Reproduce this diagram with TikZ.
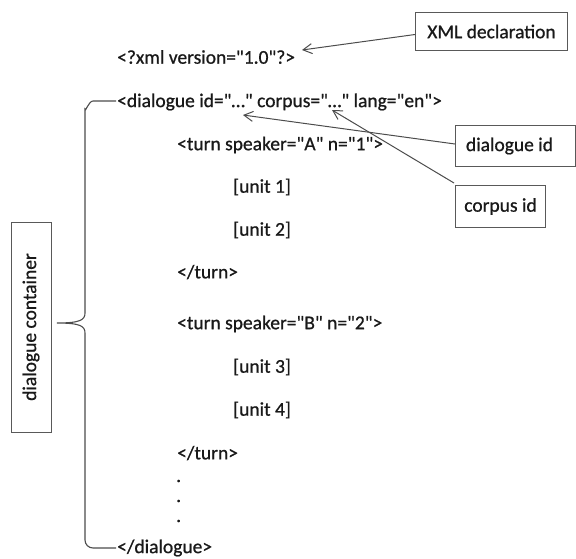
\documentclass[tikz,border=0pt]{standalone}
\usepackage{fontspec}
\setmainfont{Carlito}[Ligatures=TeXOff,FakeBold=0.8]
\usetikzlibrary{arrows.meta}
\begin{document}
\begin{tikzpicture}[x=1pt,y=-1pt,
  code/.style={anchor=west,inner sep=0pt,font=\fontsize{19.5}{22}\selectfont,text=black!90},
  label/.style={draw=black!65,line width=1pt,font=\fontsize{19.5}{22}\selectfont,text=black!90,inner sep=0pt},
  pointer/.style={draw=black!70,line width=1pt,-{Straight Barb[length=9pt,width=10pt,line width=1pt]}},
  brace/.style={draw=black!70,line width=1.1pt}]
\useasboundingbox (0,0) rectangle (576,558);

% XML listing
\node[code] (decl) at (117,57) {<?xml version="1.0"?>};
\node[code] (dlg) at (117,102) {<dialogue id="…" corpus="…" lang="en">};
\node[code] (turnA) at (177,145) {<turn speaker="A" n="1">};
\node[code] (u1) at (233,187) {[unit 1]};
\node[code] (u2) at (233,230) {[unit 2]};
\node[code] (endA) at (177,272) {</turn>};
\node[code] (turnB) at (177,324) {<turn speaker="B" n="2">};
\node[code] (u3) at (233,367) {[unit 3]};
\node[code] (u4) at (233,410) {[unit 4]};
\node[code] (endB) at (177,453) {</turn>};
\foreach \y/\n in {481/d1,501/d2,521/d3}
  \node[code] (\n) at (176,\y) {.};
\node[code] (enddlg) at (117,548) {</dialogue>};

% annotation boxes
\node[label,minimum width=152pt,minimum height=38pt,anchor=north west] (xmlbox) at (415,12) {XML declaration};
\node[label,minimum width=120pt,minimum height=41pt,anchor=north west] (idbox) at (455,125) {\hspace{-12pt}dialogue id};
\node[label,minimum width=90pt,minimum height=42pt,anchor=north west] (corpbox) at (455,185) {corpus id};
\node[label,minimum width=210pt,minimum height=40pt,rotate=90] (contbox) at (31,327) {dialogue container};

% pointer targets
\coordinate (declTip) at (302,50);
\coordinate (idTip) at (243,115);
\coordinate (corpTip) at (332,110);

\draw[pointer] ([yshift=-3pt]xmlbox.west) -- (declTip);
\draw[pointer] ([yshift=2pt]idbox.west) -- (idTip);
\draw[pointer] ([xshift=-1pt,yshift=2pt]corpbox.north west) -- (corpTip);

% curly brace around the dialogue element
\coordinate (bTop) at (116,101);
\coordinate (bBot) at (116,548);
\coordinate (bMid) at (57,323);
\draw[brace] (bTop) -- (93,101) to[out=180,in=-90] (85,109) -- (85,313)
  .. controls (85,320) and (80,323) .. (bMid)
  .. controls (80,323) and (85,326) .. (85,333) -- (85,540)
  to[out=-90,in=180] (93,548) -- (bBot);
\end{tikzpicture}
\end{document}
